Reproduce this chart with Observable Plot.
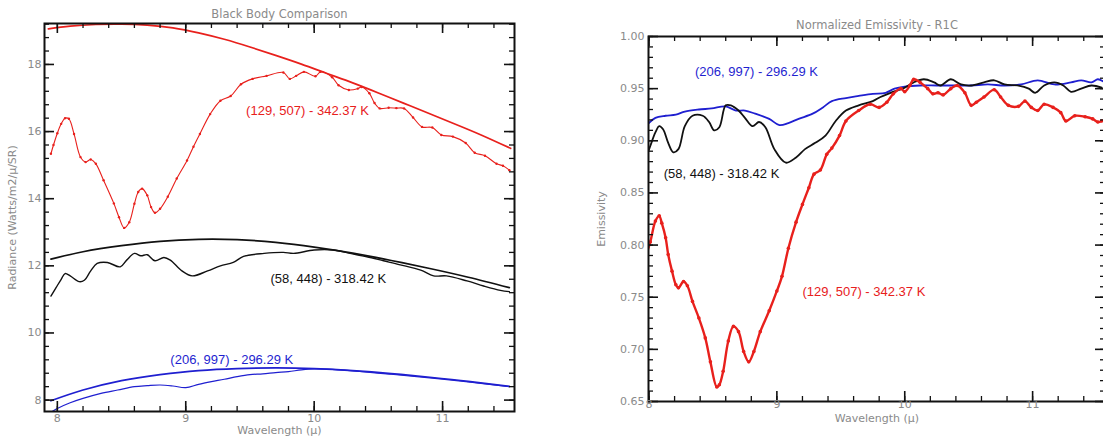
<!DOCTYPE html>
<html><head><meta charset="utf-8">
<script src="https://cdn.jsdelivr.net/npm/d3@7"></script>
<script src="https://cdn.jsdelivr.net/npm/@observablehq/plot@0.6"></script>
<style>
html,body{margin:0;padding:0;background:#fff;overflow:hidden;width:1103px;height:436px;}
#wrap{position:relative;width:1103px;height:436px;overflow:hidden;}
#left{position:absolute;left:0;top:0;width:560px;height:436px;}
#right{position:absolute;left:560px;top:0;width:560px;height:436px;}
svg{max-width:none !important;}
</style></head><body><div id="wrap"><div id="left"></div><div id="right"></div></div>
<script>
// ---------- Left panel: Black Body Comparison ----------
const bbRedX = [7.93, 8.1, 8.3, 8.5, 8.7, 8.9, 9.1, 9.3, 9.5, 9.7, 9.9, 10.1, 10.3, 10.5, 10.7, 10.9, 11.1, 11.3, 11.53];
const bbRedY = [19.06, 19.14, 19.19, 19.2, 19.17, 19.09, 18.94, 18.75, 18.52, 18.27, 18.01, 17.73, 17.45, 17.15, 16.84, 16.53, 16.22, 15.9, 15.5];
const radRedX = [7.95, 7.97, 8.0, 8.03, 8.06, 8.09, 8.13, 8.18, 8.22, 8.26, 8.30, 8.36, 8.44, 8.48, 8.52, 8.56, 8.6, 8.63, 8.66, 8.7, 8.73, 8.76, 8.8, 8.86, 8.93, 9.01, 9.06, 9.11, 9.19, 9.27, 9.35, 9.43, 9.52, 9.63, 9.76, 9.81, 9.86, 9.92, 10.01, 10.05, 10.14, 10.19, 10.27, 10.34, 10.37, 10.43, 10.47, 10.51, 10.58, 10.64, 10.70, 10.77, 10.84, 10.92, 10.99, 11.08, 11.18, 11.25, 11.33, 11.42, 11.47, 11.52];
const radRedY = [15.34, 15.6, 15.95, 16.23, 16.4, 16.38, 15.93, 15.24, 15.09, 15.17, 15.04, 14.55, 13.86, 13.45, 13.13, 13.3, 13.85, 14.2, 14.3, 14.1, 13.75, 13.58, 13.7, 14.06, 14.6, 15.14, 15.55, 15.93, 16.52, 16.92, 17.06, 17.41, 17.57, 17.66, 17.76, 17.57, 17.66, 17.78, 17.65, 17.78, 17.62, 17.38, 17.24, 17.28, 17.33, 17.14, 16.85, 16.69, 16.71, 16.7, 16.69, 16.42, 16.14, 16.12, 15.9, 15.85, 15.66, 15.37, 15.28, 15.04, 14.98, 14.85];

const bbBlackX = [7.95, 8.2, 8.5, 8.8, 9.1, 9.4, 9.7, 10.0, 10.3, 10.6, 10.9, 11.2, 11.52];
const bbBlackY = [12.2, 12.42, 12.6, 12.73, 12.79, 12.78, 12.7, 12.56, 12.38, 12.16, 11.92, 11.66, 11.35];
const radBlackX = [7.95, 7.99, 8.03, 8.06, 8.10, 8.17, 8.21, 8.26, 8.31, 8.39, 8.49, 8.54, 8.6, 8.65, 8.70, 8.76, 8.83, 8.88, 8.97, 9.05, 9.17, 9.27, 9.37, 9.45, 9.61, 9.76, 9.84, 10.0, 10.15, 10.28, 10.41, 10.54, 10.67, 10.83, 10.93, 11.03, 11.19, 11.32, 11.45, 11.52];
const radBlackY = [11.1, 11.35, 11.6, 11.77, 11.7, 11.53, 11.57, 11.85, 12.07, 12.1, 11.97, 12.17, 12.37, 12.3, 12.33, 12.15, 12.25, 12.17, 11.85, 11.7, 11.85, 12.0, 12.1, 12.28, 12.37, 12.4, 12.37, 12.47, 12.47, 12.37, 12.27, 12.15, 12.03, 11.87, 11.7, 11.7, 11.55, 11.4, 11.27, 11.23];

const bbBlueX = [7.95, 8.2, 8.5, 8.8, 9.1, 9.4, 9.7, 10.0, 10.3, 10.6, 10.9, 11.2, 11.52];
const bbBlueY = [7.98, 8.3, 8.58, 8.76, 8.88, 8.94, 8.96, 8.94, 8.88, 8.79, 8.68, 8.56, 8.41];
const radBlueX = [7.93, 7.97, 8.0, 8.1, 8.2, 8.34, 8.47, 8.6, 8.7, 8.8, 8.9, 9.0, 9.1, 9.2, 9.3, 9.4, 9.5, 9.6, 9.7, 9.8, 9.9, 10.0, 10.1, 10.3, 10.6, 10.9, 11.2, 11.52];
const radBlueY = [7.6, 7.68, 7.75, 7.92, 8.05, 8.2, 8.3, 8.4, 8.43, 8.45, 8.42, 8.37, 8.47, 8.55, 8.62, 8.7, 8.76, 8.78, 8.82, 8.85, 8.9, 8.93, 8.92, 8.87, 8.77, 8.66, 8.54, 8.4];

const leftLabelText = ["(129, 507) - 342.37 K", "(58, 448) - 318.42 K", "(206, 997) - 296.29 K"];
const leftLabelX = [9.47, 9.66, 8.88];
const leftLabelY = [16.63, 11.6, 9.21];

// ---------- Right panel: Normalized Emissivity ----------
const emBlueX = [7.99, 8.05, 8.13, 8.21, 8.28, 8.39, 8.49, 8.6, 8.68, 8.75, 8.83, 8.94, 9.02, 9.09, 9.17, 9.28, 9.36, 9.43, 9.54, 9.64, 9.75, 9.85, 9.92, 10.0, 10.12, 10.25, 10.39, 10.52, 10.65, 10.78, 10.91, 11.04, 11.17, 11.3, 11.38, 11.46, 11.51, 11.55];
const emBlueY = [0.916, 0.922, 0.924, 0.925, 0.928, 0.930, 0.931, 0.933, 0.929, 0.929, 0.926, 0.921, 0.915, 0.917, 0.921, 0.926, 0.932, 0.938, 0.941, 0.943, 0.945, 0.946, 0.950, 0.952, 0.953, 0.953, 0.953, 0.953, 0.954, 0.953, 0.954, 0.958, 0.954, 0.956, 0.958, 0.956, 0.959, 0.957];
const emBlackX = [7.97, 8.01, 8.05, 8.08, 8.11, 8.15, 8.19, 8.23, 8.28, 8.34, 8.42, 8.47, 8.51, 8.55, 8.6, 8.64, 8.70, 8.75, 8.81, 8.86, 8.91, 8.98, 9.07, 9.15, 9.22, 9.30, 9.38, 9.46, 9.54, 9.64, 9.75, 9.81, 9.89, 10.0, 10.07, 10.15, 10.23, 10.28, 10.36, 10.44, 10.52, 10.62, 10.7, 10.78, 10.89, 10.97, 11.02, 11.09, 11.17, 11.24, 11.3, 11.38, 11.46, 11.54];
const emBlackY = [0.881, 0.895, 0.908, 0.914, 0.911, 0.898, 0.889, 0.892, 0.914, 0.924, 0.924, 0.918, 0.910, 0.913, 0.934, 0.934, 0.929, 0.922, 0.914, 0.918, 0.913, 0.892, 0.879, 0.884, 0.892, 0.898, 0.905, 0.919, 0.929, 0.934, 0.938, 0.942, 0.946, 0.951, 0.956, 0.959, 0.956, 0.953, 0.959, 0.954, 0.953, 0.956, 0.958, 0.954, 0.953, 0.950, 0.946, 0.953, 0.956, 0.953, 0.947, 0.950, 0.953, 0.951];
const emRedX = [7.97, 8.01, 8.05, 8.08, 8.10, 8.13, 8.15, 8.18, 8.21, 8.23, 8.27, 8.30, 8.34, 8.39, 8.44, 8.48, 8.53, 8.55, 8.58, 8.62, 8.66, 8.70, 8.74, 8.78, 8.82, 8.87, 8.94, 9.0, 9.04, 9.09, 9.15, 9.20, 9.25, 9.29, 9.34, 9.39, 9.43, 9.49, 9.54, 9.64, 9.73, 9.80, 9.86, 9.91, 9.97, 10.0, 10.04, 10.07, 10.12, 10.18, 10.22, 10.26, 10.3, 10.36, 10.41, 10.47, 10.52, 10.56, 10.62, 10.7, 10.75, 10.81, 10.89, 10.94, 10.99, 11.04, 11.09, 11.16, 11.22, 11.26, 11.33, 11.41, 11.47, 11.51, 11.54];
const emRedY = [0.788, 0.803, 0.823, 0.828, 0.821, 0.807, 0.791, 0.775, 0.762, 0.759, 0.765, 0.761, 0.746, 0.730, 0.711, 0.688, 0.664, 0.666, 0.679, 0.708, 0.722, 0.717, 0.698, 0.688, 0.698, 0.717, 0.737, 0.756, 0.770, 0.797, 0.822, 0.839, 0.855, 0.868, 0.872, 0.887, 0.893, 0.905, 0.919, 0.929, 0.935, 0.932, 0.937, 0.945, 0.950, 0.947, 0.953, 0.959, 0.956, 0.950, 0.945, 0.946, 0.944, 0.950, 0.953, 0.946, 0.934, 0.937, 0.942, 0.949, 0.942, 0.934, 0.933, 0.938, 0.932, 0.929, 0.935, 0.932, 0.927, 0.919, 0.924, 0.923, 0.921, 0.918, 0.919];

const rightLabelText = ["(206, 997) - 296.29 K", "(58, 448) - 318.42 K", "(129, 507) - 342.37 K"];
const rightLabelX = [8.36, 8.115, 9.2];
const rightLabelY = [0.966, 0.868, 0.755];

const xTickLabels = [8, 9, 10, 11];
const leftYTickLabels = [8, 10, 12, 14, 16, 18];
const rightYTickLabels = [0.65, 0.70, 0.75, 0.80, 0.85, 0.90, 0.95, 1.00];

// ---------- helpers ----------
const RED = "#e8201c", BLUE = "#1f1fd0", BLACK = "#111";
const GRAY = "#8a8a8a";
const zip = (xs, ys) => xs.map((x, i) => ({x, y: ys[i]}));
const ticksBox = (w, h, xMaj, xMin, yMaj, yMin, maj, min) => [
  Plot.tickX(xMin, {x: d => d, insetTop: h - min, stroke: BLACK, strokeWidth: 1.3}),
  Plot.tickX(xMin, {x: d => d, insetBottom: h - min, stroke: BLACK, strokeWidth: 1.3}),
  Plot.tickX(xMaj, {x: d => d, insetTop: h - maj, stroke: BLACK, strokeWidth: 1.6}),
  Plot.tickX(xMaj, {x: d => d, insetBottom: h - maj, stroke: BLACK, strokeWidth: 1.6}),
  Plot.tickY(yMin, {y: d => d, insetRight: w - min, stroke: BLACK, strokeWidth: 1.3}),
  Plot.tickY(yMin, {y: d => d, insetLeft: w - min, stroke: BLACK, strokeWidth: 1.3}),
  Plot.tickY(yMaj, {y: d => d, insetRight: w - maj, stroke: BLACK, strokeWidth: 1.6}),
  Plot.tickY(yMaj, {y: d => d, insetLeft: w - maj, stroke: BLACK, strokeWidth: 1.6})
];
const labels = (txt, xs, ys, colors) => Plot.text(txt.map((t, i) => ({t, x: xs[i], y: ys[i], c: colors[i]})),
  {x: "x", y: "y", text: "t", fill: "c", textAnchor: "start", fontSize: 13, fontFamily: "Liberation Sans, Arial, sans-serif"});
const grayText = {fill: GRAY, fontSize: 11, textAnchor: "middle", lineAnchor: "middle"};

// ---------- left plot ----------
{
  const W = 560, H = 436, mL = 44, mR = 46, mT = 23, mB = 25;
  const w = W - mL - mR, h = H - mT - mB;
  const xMinor = d3.range(8, 11.61, 0.2).map(v => +v.toFixed(1)).filter(v => v <= 11.56);
  const yMinor = d3.range(7.6, 19.3, 0.4).map(v => +v.toFixed(1)).filter(v => v >= 7.66 && v <= 19.22);
  const p = Plot.plot({
    width: W, height: H, marginLeft: mL, marginRight: mR, marginTop: mT, marginBottom: mB,
    style: {fontFamily: "DejaVu Sans, sans-serif", background: "#fff", overflow: "visible"},
    x: {domain: [7.9, 11.56]},
    y: {domain: [7.66, 19.22]},
    marks: [
      Plot.line(zip(bbRedX, bbRedY), {x: "x", y: "y", stroke: RED, strokeWidth: 1.7, curve: "natural", clip: true}),
      Plot.line(zip(radRedX, radRedY), {x: "x", y: "y", stroke: RED, strokeWidth: 1.1, curve: "catmull-rom", clip: true}),
      Plot.dot(zip(radRedX, radRedY), {x: "x", y: "y", fill: RED, r: 1.2, clip: true}),
      Plot.line(zip(bbBlackX, bbBlackY), {x: "x", y: "y", stroke: BLACK, strokeWidth: 1.7, curve: "natural", clip: true}),
      Plot.line(zip(radBlackX, radBlackY), {x: "x", y: "y", stroke: BLACK, strokeWidth: 1.4, curve: "catmull-rom", clip: true}),
      Plot.line(zip(bbBlueX, bbBlueY), {x: "x", y: "y", stroke: BLUE, strokeWidth: 1.7, curve: "natural", clip: true}),
      Plot.line(zip(radBlueX, radBlueY), {x: "x", y: "y", stroke: BLUE, strokeWidth: 1.2, curve: "catmull-rom", clip: true}),
      labels(leftLabelText, leftLabelX, leftLabelY, [RED, BLACK, BLUE]),
      ...ticksBox(w, h, xTickLabels, xMinor, leftYTickLabels, yMinor, 10, 5),
      Plot.frame({stroke: BLACK, strokeWidth: 2}),
      Plot.axisX(xTickLabels, {tickSize: 0, tickPadding: 3, fill: GRAY, fontSize: 11, label: null, tickFormat: d3.format("d")}),
      Plot.axisY(leftYTickLabels, {tickSize: 0, tickPadding: 3, fill: GRAY, fontSize: 11, label: null, tickFormat: d3.format("d")}),
      Plot.text(["Black Body Comparison"], {frameAnchor: "top", dy: -9, ...grayText, fontSize: 11.5, letterSpacing: "0.5px"}),
      Plot.text(["Wavelength (μ)"], {frameAnchor: "bottom", dy: 19, ...grayText}),
      Plot.text(["Radiance (Watts/m2/μ/SR)"], {frameAnchor: "left", dx: -32, rotate: -90, ...grayText})
    ]
  });
  document.getElementById("left").appendChild(p);
}

// ---------- right plot ----------
{
  const W = 560, H = 436, mL = 88, mR = 15, mT = 36, mB = 35;
  const w = W - mL - mR, h = H - mT - mB;
  const xMinor = d3.range(8, 11.61, 0.2).map(v => +v.toFixed(1)).filter(v => v <= 11.57);
  const yMinor = d3.range(0.65, 1.001, 0.01).map(v => +v.toFixed(2));
  const p = Plot.plot({
    width: W, height: H, marginLeft: mL, marginRight: mR, marginTop: mT, marginBottom: mB,
    style: {fontFamily: "DejaVu Sans, sans-serif", background: "#fff", overflow: "visible"},
    x: {domain: [7.996, 11.57]},
    y: {domain: [0.65, 1.0]},
    marks: [
      Plot.line(zip(emBlueX, emBlueY), {x: "x", y: "y", stroke: BLUE, strokeWidth: 1.8, curve: "catmull-rom", clip: true}),
      Plot.line(zip(emBlackX, emBlackY), {x: "x", y: "y", stroke: BLACK, strokeWidth: 1.8, curve: "catmull-rom", clip: true}),
      Plot.line(zip(emRedX, emRedY), {x: "x", y: "y", stroke: RED, strokeWidth: 2.4, curve: "catmull-rom", clip: true}),
      Plot.dot(zip(emRedX, emRedY), {x: "x", y: "y", fill: RED, r: 1.8, clip: true}),
      labels(rightLabelText, rightLabelX, rightLabelY, [BLUE, BLACK, RED]),
      ...ticksBox(w, h, xTickLabels, xMinor, rightYTickLabels, yMinor, 10, 5),
      Plot.frame({stroke: BLACK, strokeWidth: 2}),
      Plot.axisX(xTickLabels, {tickSize: 0, tickPadding: -1, fill: GRAY, fontSize: 11, label: null, tickFormat: d3.format("d")}),
      Plot.axisY(rightYTickLabels, {tickSize: 0, tickPadding: 4, fill: GRAY, fontSize: 11, label: null, tickFormat: d3.format(".2f")}),
      Plot.text(["Normalized Emissivity - R1C"], {frameAnchor: "top", dy: -11, ...grayText, fontSize: 11.5, letterSpacing: "0.9px"}),
      Plot.text(["Wavelength (μ)"], {frameAnchor: "bottom", dy: 17, ...grayText}),
      Plot.text(["Emissivity"], {frameAnchor: "left", dx: -47, rotate: -90, ...grayText})
    ]
  });
  document.getElementById("right").appendChild(p);
}
</script></body></html>
